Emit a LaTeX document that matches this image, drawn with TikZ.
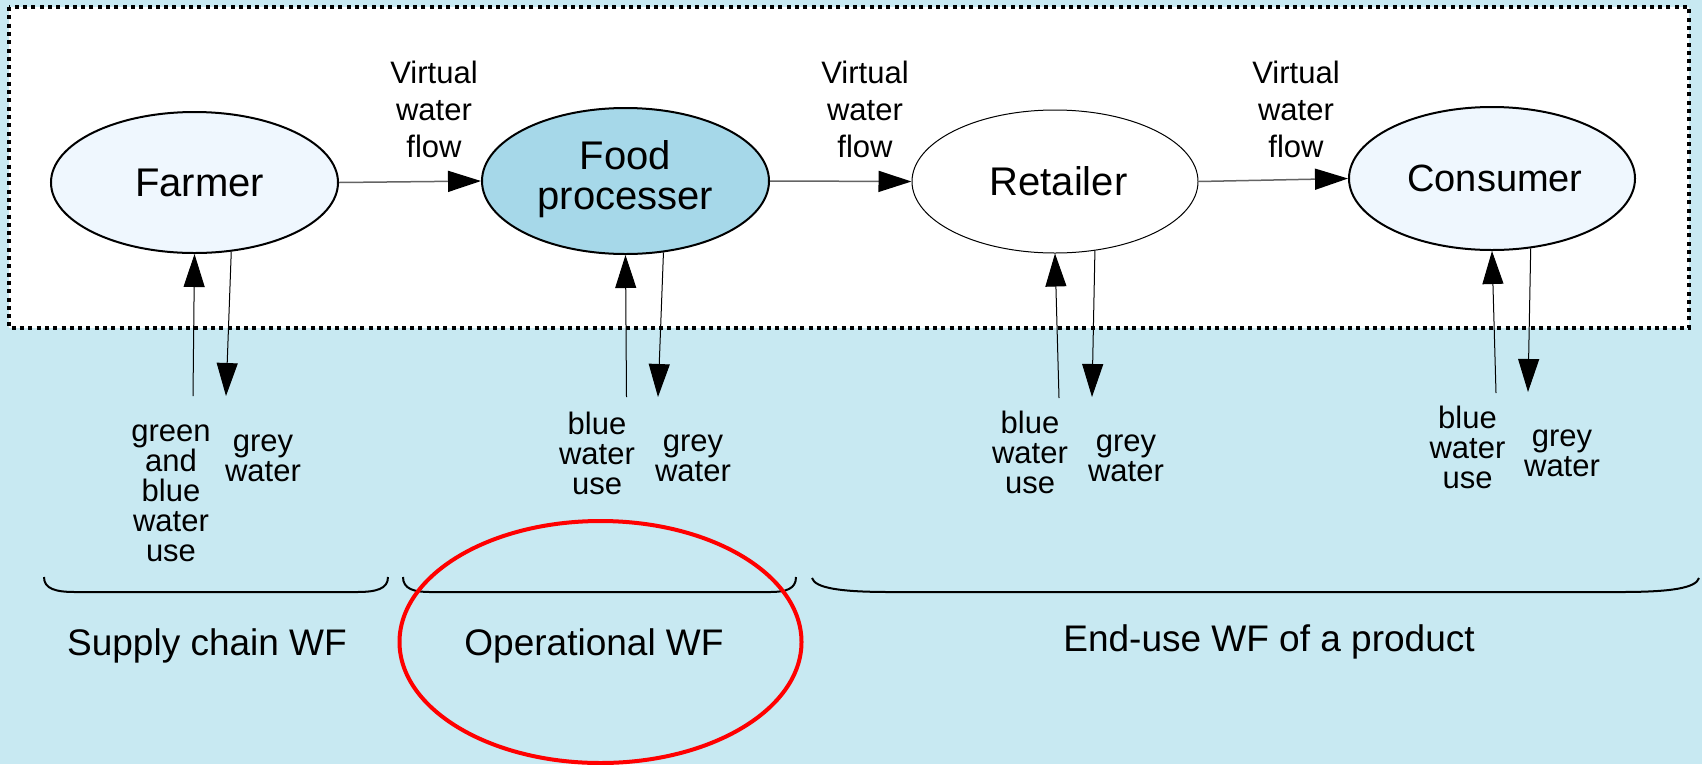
\documentclass[tikz,border=0pt]{standalone}
\usepackage{fontspec}
\setmainfont{Liberation Sans}
\usetikzlibrary{arrows.meta,shapes.geometric}
\definecolor{bgblue}{RGB}{200,233,242}
\definecolor{paleblue}{RGB}{239,247,254}
\definecolor{midblue}{RGB}{166,216,233}
\definecolor{flowgray}{RGB}{100,100,100}
\definecolor{markred}{RGB}{255,0,0}
\begin{document}
\begin{tikzpicture}[x=1pt,y=-1pt,
  actor/.style={ellipse, draw=black, line width=2pt, inner sep=0pt, minimum width=287pt, minimum height=143pt, align=center, font=\fontsize{40}{40}\selectfont},
  flowlbl/.style={align=center, inner sep=0pt, font=\fontsize{31}{37}\selectfont},
  uselbl/.style={align=center, inner sep=0pt, font=\fontsize{31}{30}\selectfont},
  wflbl/.style={inner sep=0pt, font=\fontsize{37}{37}\selectfont},
  flow/.style={draw=flowgray, line width=1.5pt, -{Triangle[length=33pt,width=21pt,color=black]}},
  vert/.style={draw=black, line width=1pt, -{Triangle[length=33pt,width=21pt]}},
  bracket/.style={draw=black, line width=2pt},
]
\useasboundingbox (0,0) rectangle (1702,764);
\fill[bgblue] (0,0) rectangle (1702,764);
\draw[fill=white, line width=4pt, dash pattern=on 4pt off 4.3pt] (9,7) rectangle (1689,328);

% actors
\node[actor, fill=paleblue, minimum height=141pt] (farmer) at (194.5,182.5) {\hspace*{10pt}Farmer};
\node[actor, fill=midblue, minimum height=146pt] (food) at (625.5,181) {Food\\processer\rule[-12.5pt]{0pt}{0pt}};
\node[actor, fill=white, line width=1pt, minimum width=286pt] (retailer) at (1055,181.5) {\hspace*{7pt}Retailer};
\node[actor, fill=paleblue, minimum width=286pt, font=\fontsize{38}{38}\selectfont] (consumer) at (1492,178.5) {\hspace*{6pt}Consumer};

% virtual water flows
\draw[flow] (farmer.east) -- (food.west);
\draw[flow] (food.east) -- (retailer.west);
\draw[flow] (retailer.east) -- (consumer.west);
\node[flowlbl] (vwf1) at (434,109) {Virtual\\water\\flow};
\node[flowlbl] (vwf2) at (865,109) {Virtual\\water\\flow};
\node[flowlbl] (vwf3) at (1296,109) {Virtual\\water\\flow};

% vertical exchanges
\coordinate (fu) at (193,396);   \coordinate (fd) at (226,396);
\coordinate (pu) at (626.5,397); \coordinate (pd) at (658,397);
\coordinate (ru) at (1059,398);  \coordinate (rd) at (1092,397);
\coordinate (cu) at (1496,393);  \coordinate (cd) at (1528,392);
\draw[vert] (fu) -- (farmer.south);
\draw[vert] (farmer.-62.5) -- (fd);
\draw[vert] (pu) -- (food.south);
\draw[vert] (food.-62.7) -- (pd);
\draw[vert] (ru) -- (retailer.south);
\draw[vert] (retailer.-60) -- (rd);
\draw[vert] (cu) -- (consumer.south);
\draw[vert] (consumer.-61) -- (cd);

% use labels
\node[uselbl] (fuse) at (171,493) {green\\and\\blue\\water\\use};
\node[uselbl] (fgrey) at (263,458) {grey\\water};
\node[uselbl] (puse) at (597,453.7) {blue\\water\\use};
\node[uselbl] (pgrey) at (693,458) {grey\\water};
\node[uselbl] (ruse) at (1030,452.7) {blue\\water\\use};
\node[uselbl] (rgrey) at (1126,458) {grey\\water};
\node[uselbl] (cuse) at (1467.5,447.7) {blue\\water\\use};
\node[uselbl] (cgrey) at (1562,453.5) {grey\\water};

% brackets
\draw[bracket] (44,577) .. controls (44,589) and (56,592) .. (75,592) -- (357,592) .. controls (376,592) and (388,589) .. (388,577);
\draw[bracket] (403,577) .. controls (403,589) and (414,592) .. (430,592) -- (770,592) .. controls (786,592) and (796,589) .. (796,577);
\draw[bracket] (812,578) .. controls (815,588) and (840,592) .. (890,592) -- (1621,592) .. controls (1671,592) and (1696,588) .. (1699,578);

% WF labels
\node[wflbl] (scwf) at (207,645.6) {Supply chain WF};
\node[wflbl] (opwf) at (594,645.6) {Operational WF};
\node[wflbl] (euwf) at (1269,642) {End-use WF of a product};

% highlight
\draw[markred, line width=4pt] (600.5,642) ellipse [x radius=201pt, y radius=121pt];
\end{tikzpicture}
\end{document}
